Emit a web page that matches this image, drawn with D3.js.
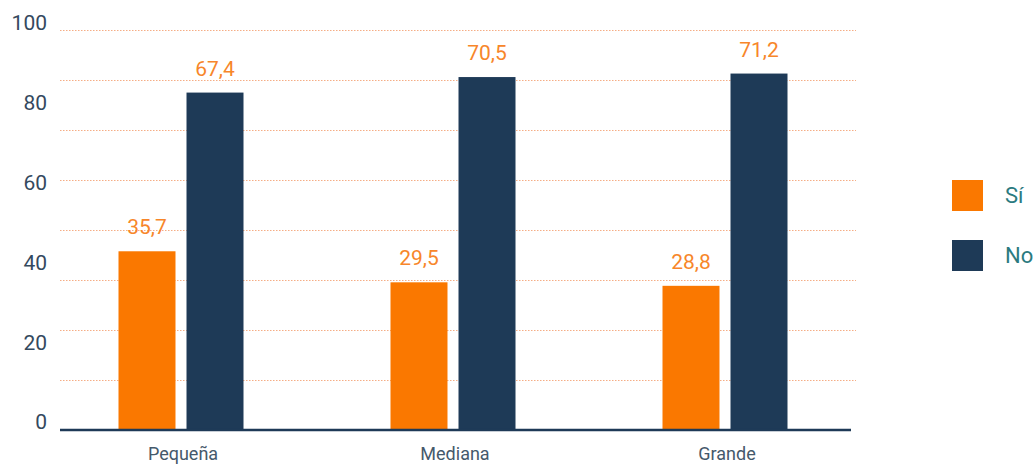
<!DOCTYPE html>
<html>
<head>
<meta charset="utf-8">
<script src="https://cdn.jsdelivr.net/npm/d3@7"></script>
<style>
body { margin: 0; background: #fff; }
svg { display: block; font-family: Roboto, "Noto Sans", sans-serif; }
</style>
</head>
<body>
<div id="chart"></div>
<script>
var categories = ["Pequeña", "Mediana", "Grande"];
var series = ["Sí", "No"];
var siValues = [35.7, 29.5, 28.8];
var noValues = [67.4, 70.5, 71.2];
var tickLabels = [0, 20, 40, 60, 80, 100];

var color = { "Sí": "#fa7800", "No": "#1e3a57" };

var width = 1035, height = 466;

var svg = d3.select("#chart").append("svg")
    .attr("width", width)
    .attr("height", height);

// x scales
var x0 = d3.scaleBand()
    .domain(categories)
    .range([45, 861]);
var x1 = d3.scaleBand()
    .domain(series)
    .range([0, 125])
    .paddingInner(0.162);

// bars use their own scale (the drawn grid has 8 steps)
var y = d3.scaleLinear()
    .domain([0, 80])
    .range([430, 29.5]);
// axis text sits on a separate scale
var yLab = d3.scaleLinear()
    .domain([0, 100])
    .range([422, 23]);

// grid
svg.append("g")
    .selectAll("line")
    .data(y.ticks(8).filter(function (d) { return d > 0; }))
    .enter()
    .append("line")
    .attr("x1", 60)
    .attr("x2", 856)
    .attr("y1", function (d) { return Math.round(y(d)) + 0.5; })
    .attr("y2", function (d) { return Math.round(y(d)) + 0.5; })
    .attr("stroke", "#f5ad85")
    .attr("stroke-width", 1)
    .attr("stroke-dasharray", "1.5,1.5");

// y labels
svg.append("g")
    .selectAll("text")
    .data(tickLabels)
    .enter()
    .append("text")
    .attr("x", 47)
    .attr("y", function (d) { return yLab(d); })
    .attr("dy", "0.35em")
    .attr("text-anchor", "end")
    .attr("fill", "#34495e")
    .style("font-size", "21px")
    .text(function (d) { return d; });

var rows = categories.map(function (c, i) {
    return { cat: c, values: [{ key: "Sí", v: siValues[i] }, { key: "No", v: noValues[i] }] };
});

var groups = svg.append("g")
    .selectAll("g")
    .data(rows)
    .enter()
    .append("g")
    .attr("transform", function (d) {
        return "translate(" + (x0(d.cat) + x0.bandwidth() / 2 - 62.5) + ",0)";
    });

groups.selectAll("rect")
    .data(function (d) { return d.values; })
    .enter()
    .append("rect")
    .attr("x", function (d) { return x1(d.key); })
    .attr("y", function (d) { return y(d.v); })
    .attr("width", x1.bandwidth())
    .attr("height", function (d) { return y(0) - y(d.v); })
    .attr("fill", function (d) { return color[d.key]; });

groups.selectAll("text")
    .data(function (d) { return d.values; })
    .enter()
    .append("text")
    .attr("x", function (d) { return x1(d.key) + x1.bandwidth() / 2; })
    .attr("y", function (d) { return y(d.v) - 17; })
    .attr("text-anchor", "middle")
    .attr("fill", "#f7862a")
    .style("font-size", "21px")
    .text(function (d) { return String(d.v.toFixed(1)).replace(".", ","); });

// baseline
svg.append("line")
    .attr("x1", 60)
    .attr("x2", 851)
    .attr("y1", y(0))
    .attr("y2", y(0))
    .attr("stroke", "#1e3a57")
    .attr("stroke-width", 2.5);

// category labels
svg.append("g")
    .selectAll("text")
    .data(categories)
    .enter()
    .append("text")
    .attr("x", function (d) { return x0(d) + x0.bandwidth() / 2 + 2; })
    .attr("y", 460)
    .attr("text-anchor", "middle")
    .attr("fill", "#45596b")
    .style("font-size", "18px")
    .text(function (d) { return d; });

// legend
var legend = svg.append("g")
    .selectAll("g")
    .data(series)
    .enter()
    .append("g")
    .attr("transform", function (d, i) { return "translate(952," + (180 + i * 60) + ")"; });

legend.append("rect")
    .attr("width", 31)
    .attr("height", 31)
    .attr("fill", function (d) { return color[d]; });

legend.append("text")
    .attr("x", 53)
    .attr("y", 15.5)
    .attr("dy", "0.35em")
    .attr("fill", "#2b7a80")
    .style("font-size", "22px")
    .text(function (d) { return d; });
</script>
</body>
</html>
